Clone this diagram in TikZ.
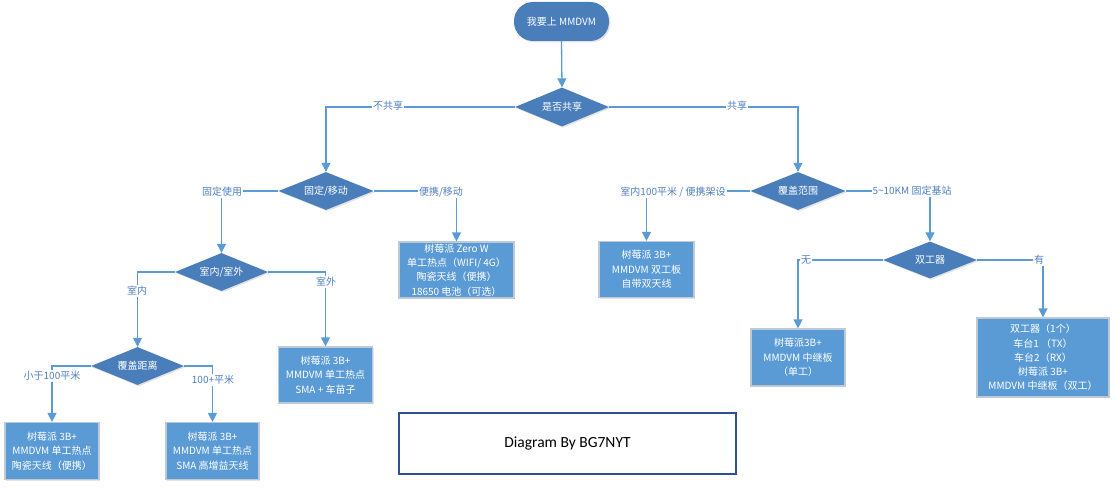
\documentclass[tikz,border=0pt]{standalone}
\usepackage{fontspec}
\setmainfont{Noto Sans CJK SC}
\newfontfamily\calfont{Carlito}
\usetikzlibrary{shapes.geometric,arrows.meta,shadows}
\definecolor{dkblue}{HTML}{4A7EBB}
\definecolor{boxblue}{HTML}{5B9BD5}
\definecolor{linecol}{HTML}{5B9BD5}
\definecolor{labcol}{HTML}{4F7FBF}
\definecolor{boxborder}{HTML}{BFC9D4}
\definecolor{navy}{HTML}{2F528F}
\newcommand{\fsz}{\fontsize{10}{14.3}\selectfont}
\begin{document}
\begin{tikzpicture}[x=1pt,y=-1pt,
  shad/.style={drop shadow={opacity=0.22,shadow xshift=1.3pt,shadow yshift=-1.3pt}},
  decision/.style={diamond, aspect=2.4, fill=dkblue, text=white, inner sep=0pt,
    font=\fsz, shad},
  terminal/.style={rectangle, rounded corners=19pt, fill=dkblue, text=white,
    inner sep=0pt, font=\fsz, shad},
  boxnode/.style={rectangle, fill=boxblue, draw=boxborder, line width=1.2pt,
    text=white, align=center, inner sep=0pt, font=\fsz, shad},
  conn/.style={draw=linecol, line width=1.3pt,
    -{Triangle[width=9pt,length=9pt]}},
  lab/.style={fill=white, text=labcol, inner sep=1pt, font=\fsz}]
\useasboundingbox (0,0) rectangle (1115,487);

% decisions and terminal
\node[terminal, minimum width=95pt, minimum height=39pt] (start) at (561.5,21.5) {我要上 MMDVM};
\node[decision, minimum width=94pt, minimum height=39pt] (share) at (562,107) {是否共享};
\node[decision, minimum width=95pt, minimum height=38pt] (fixmob) at (326,191) {固定/移动};
\node[decision, minimum width=95pt, minimum height=38pt] (cover) at (798,191) {覆盖范围};
\node[decision, minimum width=93pt, minimum height=38pt] (inout) at (221.5,272) {室内/室外};
\node[decision, minimum width=93pt, minimum height=38pt] (dist) at (137.5,366) {覆盖距离};
\node[decision, minimum width=94pt, minimum height=37pt] (duplexer) at (930,260) {双工器};

% boxes
\node[boxnode, minimum width=115pt, minimum height=56pt] (zerow) at (456.5,270)
  {树莓派 Zero W\\单工热点（WIFI/ 4G）\\陶瓷天线（便携）\\18650 电池（可选）};
\node[boxnode, minimum width=94pt, minimum height=56pt] (outbox) at (325.5,375)
  {树莓派 3B+\\MMDVM 单工热点\\SMA + 车苗子};
\node[boxnode, minimum width=94pt, minimum height=57pt] (small) at (52,451)
  {树莓派 3B+\\MMDVM 单工热点\\陶瓷天线（便携）};
\node[boxnode, minimum width=93pt, minimum height=57pt] (big) at (212.5,451)
  {树莓派 3B+\\MMDVM 单工热点\\SMA 高增益天线};
\node[boxnode, minimum width=95pt, minimum height=56pt] (dual) at (646.5,269.5)
  {树莓派 3B+\\MMDVM 双工板\\自带双天线};
\node[boxnode, minimum width=94pt, minimum height=57pt] (simplex) at (798,357.5)
  {树莓派3B+\\MMDVM 中继板\\（单工）};
\node[boxnode, minimum width=132pt, minimum height=79pt] (duplex) at (1043,357.5)
  {双工器（1个）\\车台1 （TX）\\车台2（RX）\\树莓派 3B+\\MMDVM 中继板（双工）};

% credit box
\node[draw=navy, line width=1.2pt, fill=white, minimum width=337pt, minimum height=61pt,
  font=\calfont\fontsize{15.5}{18}\selectfont] (credit) at (567.5,443.5) {Diagram By BG7NYT};

% connectors
\draw[conn] (start.south) -- (share.north);
\draw[conn] (share.west) -| (fixmob.north);
\draw[conn] (share.east) -| (cover.north);
\draw[conn] (fixmob.west) -| (inout.north);
\draw[conn] (fixmob.east) -| (zerow.north);
\draw[conn] (inout.west) -| (dist.north);
\draw[conn] (inout.east) -| (outbox.north);
\draw[conn] (dist.west) -| (small.north);
\draw[conn] (dist.east) -| (big.north);
\draw[conn] (cover.west) -| (dual.north);
\draw[conn] (cover.east) -| (duplexer.north);
\draw[conn] (duplexer.west) -| (simplex.north);
\draw[conn] (duplexer.east) -| (duplex.north);

% labels
\node[lab] (l1) at (388,106) {不共享};
\node[lab] (l2) at (737,106) {共享};
\node[lab] (l3) at (222,192) {固定使用};
\node[lab] (l4) at (441,192) {便携/移动};
\node[lab] (l5) at (673,192) {室内100平米 / 便携架设};
\node[lab] (l6) at (912,191) {5\textasciitilde10KM 固定基站};
\node[lab] (l7) at (137,291) {室内};
\node[lab] (l8) at (326,282) {室外};
\node[lab] (l9) at (52,376) {小于100平米};
\node[lab] (l10) at (213,380) {100+平米};
\node[lab] (l11) at (806,260) {无};
\node[lab] (l12) at (1039,260) {有};
\end{tikzpicture}
\end{document}
